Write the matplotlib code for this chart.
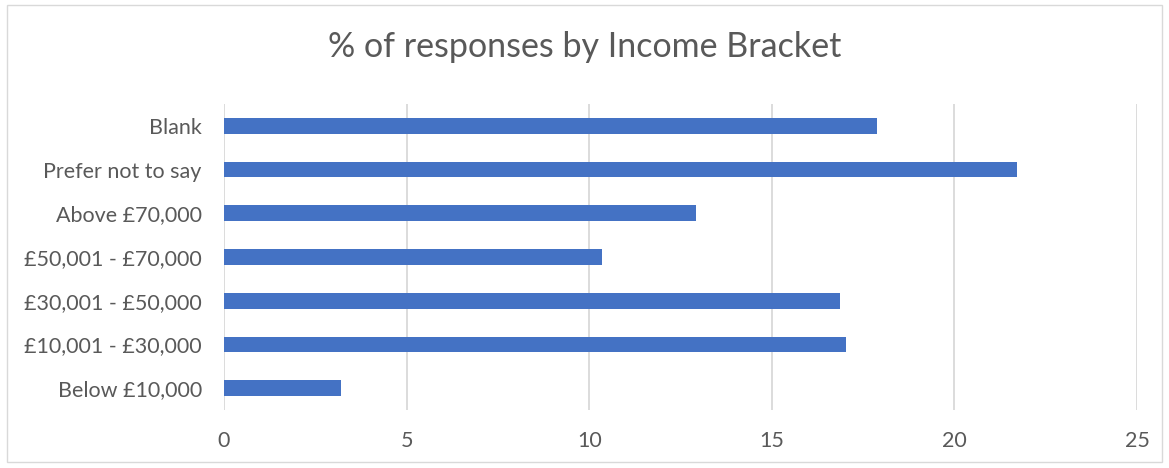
import matplotlib.pyplot as plt
import numpy as np
from matplotlib.patches import Rectangle

categories = ['Below £10,000', '£10,001 - £30,000', '£30,001 - £50,000',
              '£50,001 - £70,000', 'Above £70,000', 'Prefer not to say', 'Blank']
values = [3.2, 17.04, 16.86, 10.35, 12.93, 21.72, 17.87]
xticks = [0, 5, 10, 15, 20, 25]

plt.rcParams['font.family'] = ['Lato', 'DejaVu Sans']
grey = '#595959'

fig = plt.figure(figsize=(11.69, 4.68), dpi=100)
ax = fig.add_axes([224/1169, 1-410/468, 913/1169, 306/468])

y = np.arange(len(categories))
ax.barh(y, values, height=0.36, color='#4472C4', zorder=3)

ax.set_xlim(0, 25)
ax.set_ylim(-0.5, len(categories)-0.5)
ax.set_xticks(xticks)
ax.set_yticks(y)
ax.set_yticklabels(categories)
ax.grid(axis='x', color='#d9d9d9', linewidth=1.3, zorder=0)
for s in ax.spines.values():
    s.set_visible(False)
ax.tick_params(axis='both', length=0, labelsize=15.5, colors=grey)
ax.tick_params(axis='x', pad=15)
ax.tick_params(axis='y', pad=16)

fig.text(0.5, 1-47/468, '% of responses by Income Bracket', ha='center', va='center',
         fontsize=24.5, color=grey)

fig.patches.append(Rectangle((7/1169, 1-462/468), 1155/1169, 457/468,
                             transform=fig.transFigure, fill=False,
                             edgecolor='#d9d9d9', linewidth=1))

fig.savefig('out.png', dpi=100)
